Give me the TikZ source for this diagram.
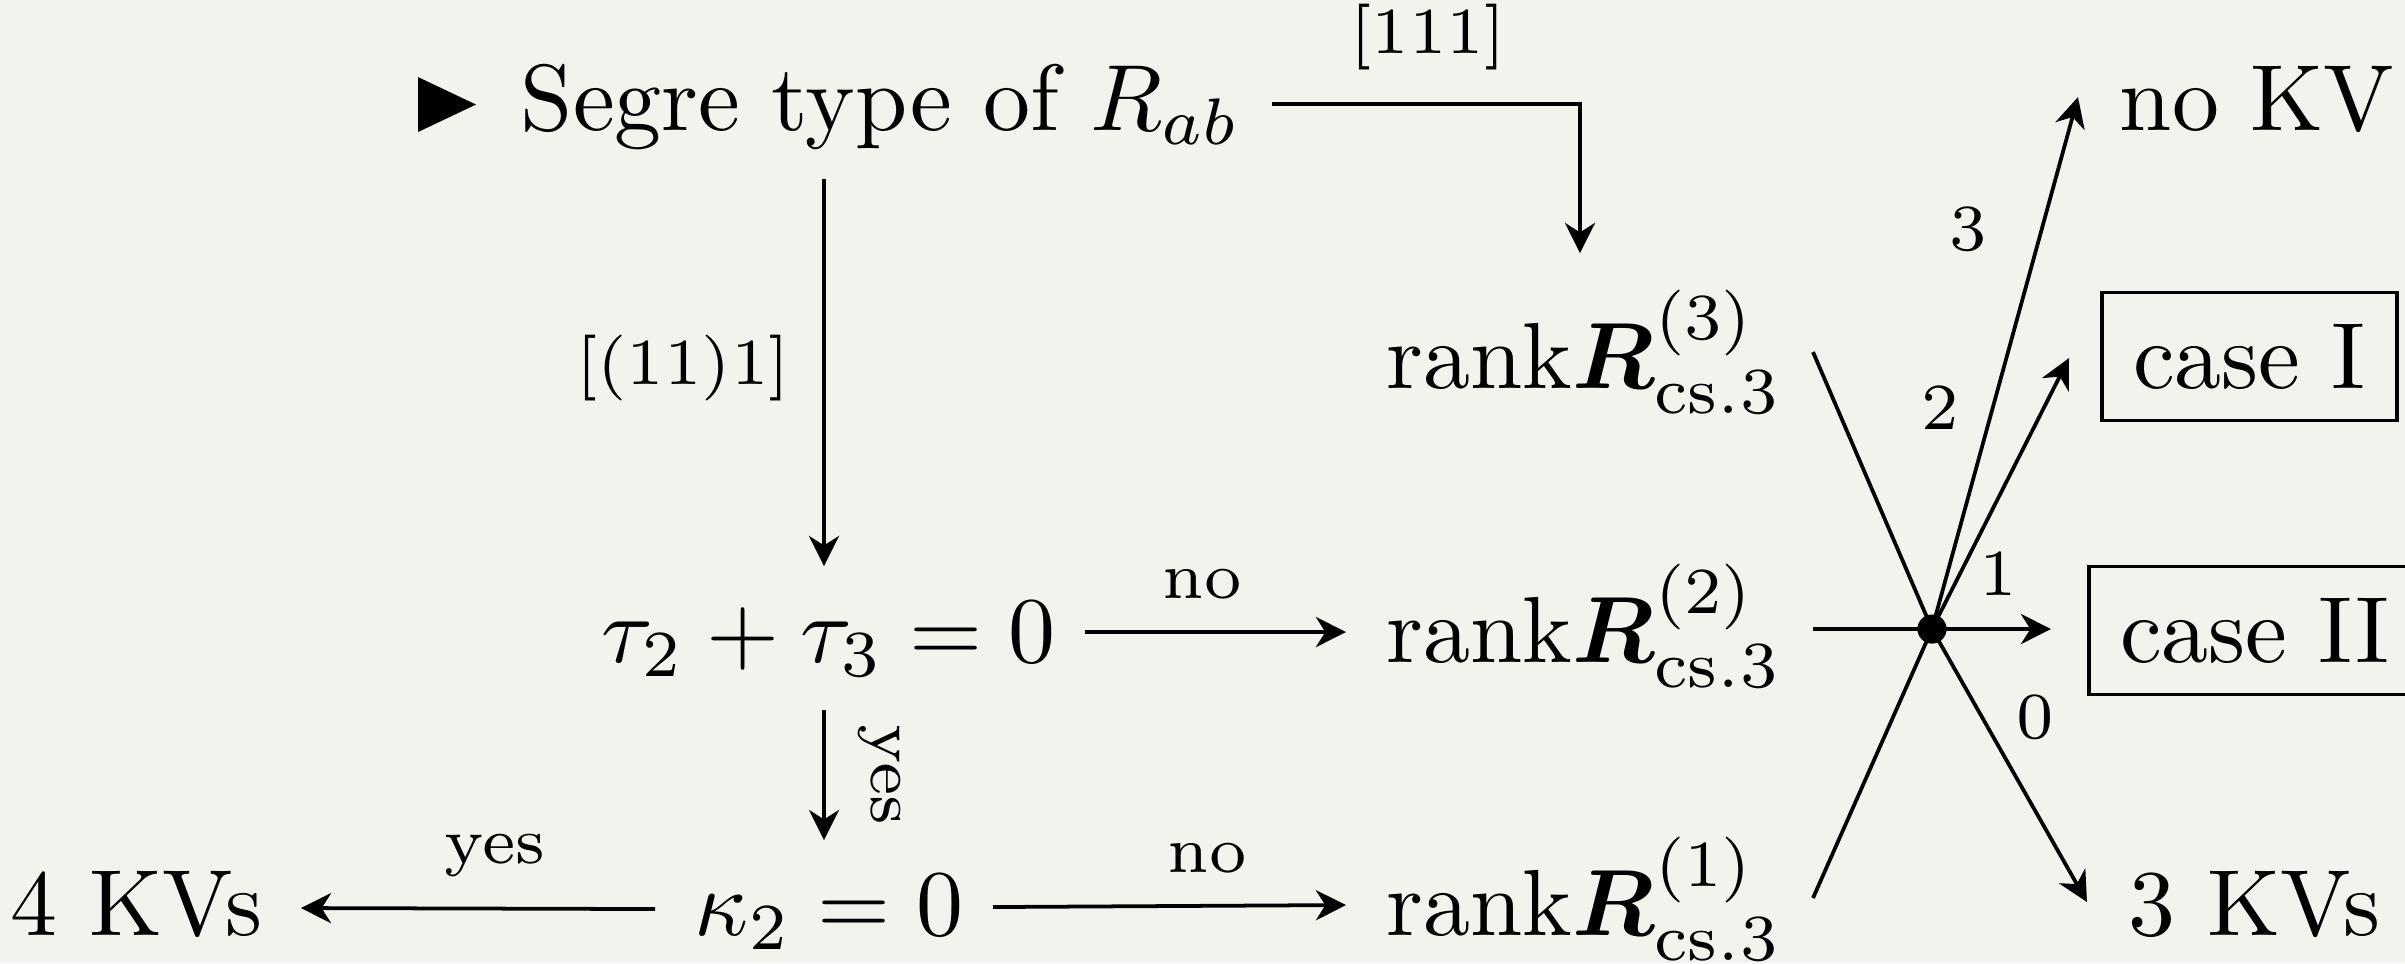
\documentclass[tikz,border=0pt]{standalone}
\usepackage{amsmath,bm}
\usetikzlibrary{arrows.meta}
\definecolor{bg}{RGB}{244,242,237}
\begin{document}
\begin{tikzpicture}[x=0.10638pt,y=-0.10638pt,
  txt/.style={inner sep=0pt, anchor=base west, font=\normalsize},
  lbl/.style={inner sep=0pt, font=\scriptsize},
  arr/.style={line width=0.4pt, -{Stealth[length=3.2pt,width=3.2pt,inset=1pt]}},
  ln/.style={line width=0.4pt},
  casebox/.style={draw, line width=0.4pt, inner sep=3.33pt, anchor=base west}]
\fill[bg] (0,0) rectangle (2405,963);
\useasboundingbox (0,0) rectangle (2405,963);
% bullet
\fill (418,77) -- (418,132) -- (476,104.5) -- cycle;
% nodes
\node[txt] (segre) at (519,130) {Segre type of $R_{ab}$};
\node[txt] (r3) at (1385,388) {rank$\bm{R}^{(3)}_{\mathrm{cs.3}}$};
\node[txt] (r2) at (1385,662) {rank$\bm{R}^{(2)}_{\mathrm{cs.3}}$};
\node[txt] (r1) at (1385,935) {rank$\bm{R}^{(1)}_{\mathrm{cs.3}}$};
\node[txt] (tau) at (600,662) {$\tau_2+\tau_3=0$};
\node[txt] (kap) at (693,935) {$\kappa_2=0$};
\node[txt] (kv4) at (9,935) {4 KVs};
\node[txt] (nokv) at (2118,130) {no KV};
\node[casebox] (c1) at (2100,388) {case I};
\node[casebox] (c2) at (2087,662) {case II};
\node[txt] (kv3) at (2127,935) {3 KVs};
\node[circle, fill, inner sep=0pt, minimum size=3.1pt] (hub) at (1932,629) {};
% connector end points
\coordinate (a1s) at (1272,104);
\coordinate (a1e) at (1580,253);
\coordinate (a2s) at (824,179);
\coordinate (a2e) at (824,566);
\coordinate (a3s) at (824,710);
\coordinate (a3e) at (824,840);
\coordinate (a4s) at (1085,632);
\coordinate (a4e) at (1346,632);
\coordinate (a5s) at (993,907);
\coordinate (a5e) at (1346,905);
\coordinate (a6s) at (655,909);
\coordinate (a6e) at (301,908);
\coordinate (h3) at (1813,352);
\coordinate (h2) at (1813,629);
\coordinate (h1) at (1813,898);
\coordinate (t3) at (2078,97);
\coordinate (t2) at (2069,358);
\coordinate (t1) at (2051,629);
\coordinate (t0) at (2087,902);
% connectors
\draw[arr] (a1s) -| (a1e);
\draw[arr] (a2s) -- (a2e);
\draw[arr] (a3s) -- (a3e);
\draw[arr] (a4s) -- (a4e);
\draw[arr] (a5s) -- (a5e);
\draw[arr] (a6s) -- (a6e);
\draw[ln] (h3) -- (hub.center);
\draw[ln] (h2) -- (hub.center);
\draw[ln] (h1) -- (hub.center);
\draw[arr] (hub.center) -- (t3);
\draw[arr] (hub.center) -- (t2);
\draw[arr] (hub.center) -- (t1);
\draw[arr] (hub.center) -- (t0);
% labels
\node[lbl, anchor=base] (l111) at (1428,53) {[111]};
\node[lbl] (l1111) at (683,368) {[(11)1]};
\node[lbl, anchor=base] (lno1) at (1202,598) {no};
\node[lbl, rotate=-90] (lyes1) at (879,775) {yes};
\node[lbl, anchor=base] (lyes2) at (495,863) {yes};
\node[lbl, anchor=base] (lno2) at (1207,872) {no};
\node[lbl] (n3) at (1968,229) {3};
\node[lbl] (n2) at (1940,408) {2};
\node[lbl] (n1) at (1998,574) {1};
\node[lbl] (n0) at (2035,717) {0};
\end{tikzpicture}
\end{document}
